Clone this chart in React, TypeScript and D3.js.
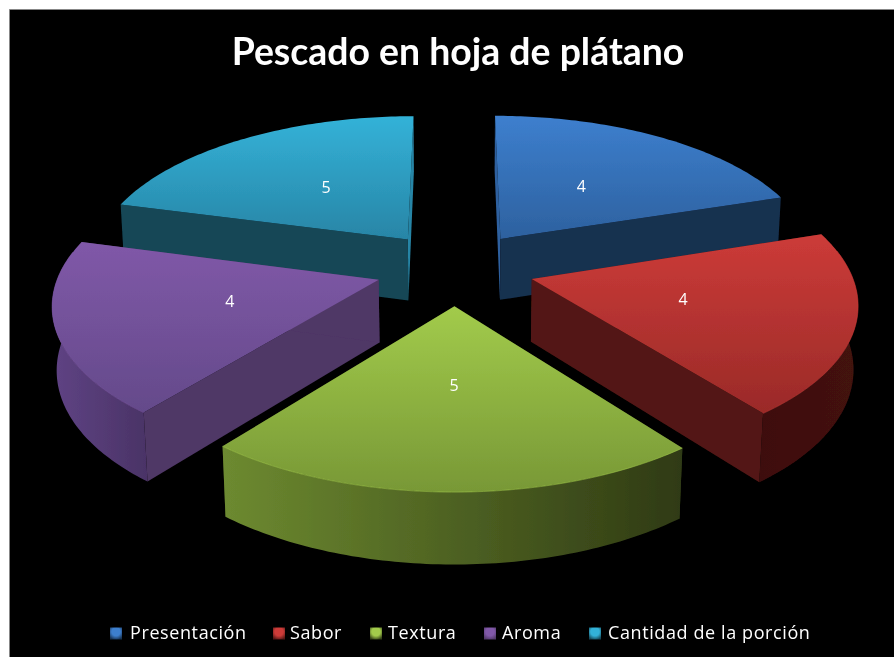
import React from "react";
import * as d3 from "d3";

const categories = ["Presentación", "Sabor", "Textura", "Aroma", "Cantidad de la porción"];
const seriesValues = [4.46, 4.35, 4.73, 4.11, 4.65];
const topLight = ["#3d7fce", "#cc3b38", "#a2cb4b", "#8058a8", "#33b2d8"];
const topDark = ["#2d619f", "#9a2a28", "#789836", "#644a8a", "#2885a6"];
const faceColors = ["#17304f", "#521715", "#333f17", "#4f3766", "#154756"];
const rimLeft = ["#1c3a5e", "#3e0f0e", "#6d8a30", "#5f4384", "#1a5566"];
const rimRight = ["#122840", "#431210", "#2f3a14", "#4a3366", "#123c48"];
const legendKeyX = [110, 273, 370, 484, 589];
const legendTextX = [130, 290, 388, 502, 608];
const title = "Pescado en hoja de plátano";

// Projection of the tilted pie: world X right, Y away from the viewer, Z down
const cx = 455, cy = 268, fx = 318, g = 147.9, k = 0.14, drop = 63, dropW = 0.011, explode = 0.25;
const project = (X: number, Y: number, down: boolean): [number, number] => {
  const w = 1 + k * Y + (down ? dropW : 0);
  return [cx + (fx * X) / w, cy + (-g * Y + (down ? drop : 0)) / w];
};

const pie = d3.pie<number>().sort(null).startAngle(0).endAngle(2 * Math.PI);
const arcs = pie(seriesValues);
const line = d3.line();
const drawOrder = [4, 0, 3, 1, 2];

function slice(i: number) {
  const a = arcs[i];
  const mid = (a.startAngle + a.endAngle) / 2;
  const ox = explode * Math.sin(mid), oy = explode * Math.cos(mid);
  const at = (t: number, r: number, down: boolean) =>
    project(ox + r * Math.sin(t), oy + r * Math.cos(t), down);
  const ts = d3.range(0, 81).map((n) => a.startAngle + ((a.endAngle - a.startAngle) * n) / 80);
  const topArc = ts.map((t) => at(t, 1, false));
  const botArc = ts.map((t) => at(t, 1, true));
  const apexT = at(0, 0, false), apexB = at(0, 0, true);
  const face = (t: number) => line([apexT, at(t, 1, false), at(t, 1, true), apexB, apexT])!;
  const rimIdx = ts.map((_, n) => n).filter((n) => Math.cos(ts[n]) < 0.2);
  const rim = rimIdx.length
    ? line([...rimIdx.map((n) => topArc[n]), ...rimIdx.slice().reverse().map((n) => botArc[n])])!
    : null;
  const faces = [a.startAngle, a.endAngle]
    .map((t) => ({ d: face(t), sliver: Math.cos(t) > 0.99 }))
    .sort((p, q) => Number(q.sliver) - Number(p.sliver));
  return {
    i,
    top: line([apexT, ...topArc, apexT])!,
    rim,
    faces,
    label: at(mid, 0.475, false),
    edge: rimIdx.length ? line(rimIdx.map((n) => topArc[n]))! : null,
    text: d3.format(".0f")(a.value),
  };
}

export default function App() {
  const slices = drawOrder.map(slice);
  return (
    <svg
      width={894}
      height={657}
      style={{ position: "fixed", left: 0, top: 0, display: "block" }}
    >
      <defs>
        <filter id="soft" x="-5%" y="-5%" width="110%" height="110%">
          <feGaussianBlur stdDeviation="0.4" />
        </filter>
        {categories.map((_, i) => (
          <React.Fragment key={i}>
            <linearGradient id={`top${i}`} x1="0" y1="0" x2="0" y2="1">
              <stop offset="0" stopColor={topLight[i]} />
              <stop offset="1" stopColor={topDark[i]} />
            </linearGradient>
            <linearGradient id={`rim${i}`} x1="0" y1="0" x2="1" y2="0">
              <stop offset="0" stopColor={rimLeft[i]} />
              <stop offset="1" stopColor={rimRight[i]} />
            </linearGradient>
            <radialGradient id={`key${i}`} cx="0.5" cy="0.35" r="0.7">
              <stop offset="0" stopColor={topLight[i]} />
              <stop offset="0.5" stopColor={topLight[i]} />
              <stop offset="1" stopColor={faceColors[i]} />
            </radialGradient>
          </React.Fragment>
        ))}
      </defs>
      <rect width={894} height={657} fill="#fff" />
      <rect x={9.5} y={9.5} width={885} height={648} fill="#000" stroke="#8c8c8c" strokeWidth={0.6} />
      <g filter="url(#soft)">
        <text
          x={458}
          y={65}
          textAnchor="middle"
          fill="#fff"
          fontFamily="Lato, sans-serif"
          fontWeight={700}
          fontSize={37.4}
        >
          {title}
        </text>
        {slices.map((s) => (
          <g key={s.i}>
            {s.faces.map((f, n) => (
              <path key={n} d={f.d} fill={f.sliver ? topDark[s.i] : faceColors[s.i]} />
            ))}
            {s.rim && <path d={s.rim} fill={`url(#rim${s.i})`} />}
            <path d={s.top} fill={`url(#top${s.i})`} />
            {s.edge && (
              <path d={s.edge} fill="none" stroke={topLight[s.i]} strokeWidth={1} strokeOpacity={0.55} />
            )}
          </g>
        ))}
        {slices.map((s) => (
          <text
            key={s.i}
            x={s.label[0] + 1}
            y={s.label[1] + 4}
            textAnchor="middle"
            fill="#fff"
            fontFamily="'Open Sans', sans-serif"
            fontSize={16}
          >
            {s.text}
          </text>
        ))}
        {categories.map((c, i) => (
          <g key={c}>
            <rect x={legendKeyX[i]} y={627.5} width={12} height={12} fill={`url(#key${i})`} />
            <text
              x={legendTextX[i]}
              y={639}
              fill="#fff"
              fontFamily="'Open Sans', sans-serif"
              fontSize={18}
              letterSpacing={0.6}
            >
              {c}
            </text>
          </g>
        ))}
      </g>
    </svg>
  );
}
